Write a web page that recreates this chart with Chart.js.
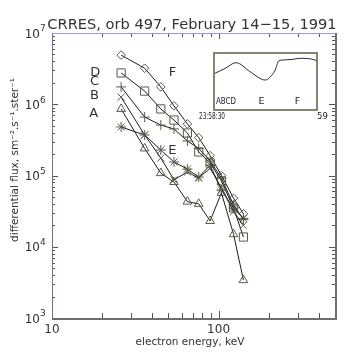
<!DOCTYPE html>
<html>
<head>
<meta charset="utf-8">
<script src="https://cdn.jsdelivr.net/npm/chart.js@4"></script>
<style>
  html, body { margin: 0; padding: 0; background: #fff; }
  #wrap { position: relative; width: 359px; height: 354px; }
  #main { position: absolute; left: 0; top: 0; }
  #inset { position: absolute; left: 195px; top: 45px; }
</style>
</head>
<body>
<div id="wrap">
  <canvas id="main" width="359" height="354"></canvas>
  <canvas id="inset" width="140" height="80"></canvas>
</div>
<script>
// electron energy channels, keV
const energies = [26, 36, 45, 54, 65, 76, 89, 104, 123, 141];

// differential flux per time cut (A..F)
const fluxA = [8.6e5, 2.4e5, 1.08e5, 8.1e4, 4.3e4, 4.0e4, 2.3e4, 5.7e4, 1.5e4, 3.4e3];
const fluxB = [1.26e6, 3.7e5, 1.76e5, 8.7e4, 1.12e5, 9.2e4, 1.27e5, 6.7e4, 3.1e4, 2.0e4];
const fluxC = [1.75e6, 6.6e5, 5.1e5, 4.5e5, 3.05e5, 2.4e5, 1.6e5, 9.2e4, 3.85e4, 2.4e4];
const fluxD = [2.75e6, 1.53e6, 8.6e5, 6.0e5, 3.95e5, 2.14e5, 1.5e5, 8.4e4, 3.5e4, 1.37e4];
const fluxE = [4.8e5, 3.7e5, 2.28e5, 1.55e5, 1.23e5, 9.5e4, 1.4e5, 6.25e4, 3.5e4, 2.5e4];
const fluxF = [4.9e6, 3.2e6, 1.75e6, 9.5e5, 5.3e5, 3.4e5, 1.9e5, 1.0e5, 4.8e4, 2.9e4];

const seriesNames = ['A', 'B', 'C', 'D', 'E', 'F'];

// axis ticks
const xTickValues = [10, 100];
const xTickLabels = ['10', '100'];
const yTickValues = [1e3, 1e4, 1e5, 1e6, 1e7];
const yTickExponents = ['3', '4', '5', '6', '7'];

// inset: time since 23:58:30 (s) and relative trace
const insetTime = [0.3, 3.2, 6.4, 10.5, 13.9, 14.9, 16.3, 17.8, 18.9, 20.1, 23, 25, 28.8, 29.9];
const insetValue = [0.644, 0.728, 0.83, 0.672, 0.539, 0.526, 0.574, 0.70, 0.865, 0.877, 0.889, 0.907, 0.889, 0.865];
const insetMarkNames = ['ABCD', 'E', 'F'];
const insetStart = '23:58:30';
const insetEnd = '59';

const FONT = '"DejaVu Sans", sans-serif';
const markColor = '#5a5a48';
const lineColor = '#1c1c1c';

const styles = {
    A: { pointStyle: 'triangle', pointRadius: 5 },
    B: { pointStyle: 'crossRot', pointRadius: 5 },
    C: { pointStyle: 'cross', pointRadius: 5 },
    D: { pointStyle: 'rect', pointRadius: 5.8 },
    E: { pointStyle: 'star', pointRadius: 5 },
    F: { pointStyle: 'rectRot', pointRadius: 4.3 }
};

const allFlux = [fluxA, fluxB, fluxC, fluxD, fluxE, fluxF];

const datasets = seriesNames.map((name, k) => ({
    label: name,
    data: energies.map((e, i) => ({ x: e, y: allFlux[k][i] })),
    borderColor: lineColor,
    borderWidth: 1,
    pointBorderColor: markColor,
    pointBackgroundColor: 'rgba(0,0,0,0)',
    pointBorderWidth: 1,
    pointStyle: styles[name].pointStyle,
    pointRadius: styles[name].pointRadius,
    tension: 0,
    fill: false
}));

// letters placed next to the curves, in data units
const letterSpots = [
    { t: 'D', x: 18.2, y: 2.75e6 },
    { t: 'C', x: 18.0, y: 2.05e6 },
    { t: 'B', x: 18.0, y: 1.31e6 },
    { t: 'A', x: 17.8, y: 7.5e5 },
    { t: 'F', x: 52.8, y: 2.75e6 },
    { t: 'E', x: 52.8, y: 2.21e5 }
];

const framePlugin = {
    id: 'frame',
    afterDraw(chart) {
        const { ctx, chartArea: a, scales: { x, y } } = chart;
        ctx.save();

        // tick marks
        ctx.strokeStyle = '#555';
        ctx.lineWidth = 1;
        ctx.beginPath();
        for (let d = 10; d < 1000; d *= 10) {
            for (let m = 1; m <= 9; m++) {
                const v = m * d;
                if (v <= 10 || v > 500) continue;
                const px = Math.round(x.getPixelForValue(v)) + 0.5;
                const len = m === 1 ? 7 : 5;
                ctx.moveTo(px, a.bottom); ctx.lineTo(px, a.bottom - len);
                ctx.moveTo(px, a.top); ctx.lineTo(px, a.top + len - 1);
            }
        }
        for (let d = 1e3; d < 1e7; d *= 10) {
            for (let m = 1; m <= 9; m++) {
                const v = m * d;
                if (v <= 1e3) continue;
                const py = Math.round(y.getPixelForValue(v)) + 0.5;
                const len = m === 1 ? 6 : 3;
                ctx.moveTo(a.left, py); ctx.lineTo(a.left + len, py);
                ctx.moveTo(a.right, py); ctx.lineTo(a.right - len, py);
            }
        }
        ctx.stroke();

        // frame: top/left light blue, bottom/right grey and heavier
        ctx.lineWidth = 1;
        ctx.strokeStyle = '#9a9ae0';
        ctx.beginPath();
        ctx.moveTo(a.left, a.top + 0.5); ctx.lineTo(a.right, a.top + 0.5);
        ctx.stroke();
        ctx.strokeStyle = '#6d6db4';
        ctx.beginPath();
        ctx.moveTo(a.left + 0.5, a.top); ctx.lineTo(a.left + 0.5, a.bottom);
        ctx.stroke();
        ctx.lineWidth = 2;
        ctx.strokeStyle = '#6e6e6e';
        ctx.beginPath();
        ctx.moveTo(a.left, a.bottom + 1); ctx.lineTo(a.right + 2, a.bottom + 1);
        ctx.moveTo(a.right + 1, a.top); ctx.lineTo(a.right + 1, a.bottom + 2);
        ctx.stroke();

        // y tick labels 10^n
        ctx.fillStyle = '#333';
        yTickValues.forEach((v, i) => {
            const py = y.getPixelForValue(v);
            ctx.font = '12px ' + FONT;
            ctx.textAlign = 'right';
            ctx.textBaseline = 'middle';
            ctx.fillText('10', a.left - 12, py + 1.5);
            ctx.font = '9px ' + FONT;
            ctx.textAlign = 'left';
            ctx.fillText(yTickExponents[i], a.left - 12, py - 4);
        });

        // x tick labels
        ctx.font = '12px ' + FONT;
        ctx.textAlign = 'center';
        ctx.textBaseline = 'top';
        xTickValues.forEach((v, i) => {
            ctx.fillText(xTickLabels[i], x.getPixelForValue(v), a.bottom + 6);
        });

        // axis titles
        ctx.font = '10.5px ' + FONT;
        ctx.textBaseline = 'middle';
        ctx.fillText('electron energy, keV', 190, 342);
        ctx.save();
        ctx.translate(15, 160);
        ctx.rotate(-Math.PI / 2);
        ctx.fillText('differential flux, sm\u207B\u00B2.s\u207B\u00B9.ster\u207B\u00B9', 0, 0);
        ctx.restore();

        // title
        ctx.font = '14.6px ' + FONT;
        ctx.textBaseline = 'alphabetic';
        ctx.fillText('CRRES, orb 497, February 14\u221215, 1991', 192, 29);

        // curve letters
        ctx.font = '13px ' + FONT;
        ctx.textBaseline = 'middle';
        letterSpots.forEach(s => {
            ctx.fillText(s.t, x.getPixelForValue(s.x), y.getPixelForValue(s.y));
        });

        ctx.restore();
    }
};

new Chart(document.getElementById('main'), {
    type: 'line',
    data: { datasets: datasets },
    options: {
        responsive: false,
        animation: false,
        devicePixelRatio: 1,
        layout: { padding: { left: 52, right: 24, top: 33, bottom: 36 } },
        plugins: { legend: { display: false }, tooltip: { enabled: false } },
        scales: {
            x: { type: 'logarithmic', min: 10, max: 500, display: false },
            y: { type: 'logarithmic', min: 1e3, max: 1e7, display: false }
        }
    },
    plugins: [framePlugin]
});

// inset trace
const fitText = (ctx, text, x, y, width) => {
    const w = ctx.measureText(text).width;
    ctx.save();
    ctx.translate(x, y);
    ctx.scale(Math.min(1, width / w), 1);
    ctx.fillText(text, 0, 0);
    ctx.restore();
};

const insetPlugin = {
    id: 'insetFrame',
    afterDraw(chart) {
        const { ctx, chartArea: a, scales: { x } } = chart;
        ctx.save();
        ctx.strokeStyle = '#66664e';
        ctx.lineWidth = 1.6;
        ctx.strokeRect(a.left, a.top, a.right - a.left, a.bottom - a.top);

        ctx.fillStyle = '#222';
        ctx.textBaseline = 'middle';
        ctx.textAlign = 'left';
        ctx.font = '9.5px ' + FONT;
        fitText(ctx, insetMarkNames[0], a.left + 2, a.bottom - 8, 20);
        ctx.textAlign = 'center';
        fitText(ctx, insetMarkNames[1], x.getPixelForValue(13.8), a.bottom - 8, 20);
        fitText(ctx, insetMarkNames[2], x.getPixelForValue(24.3), a.bottom - 8, 20);

        ctx.font = '8.5px ' + FONT;
        ctx.textAlign = 'left';
        fitText(ctx, insetStart, 4, a.bottom + 7, 26);
        ctx.textAlign = 'center';
        fitText(ctx, insetEnd, 127.5, a.bottom + 7, 12);
        ctx.restore();
    }
};

new Chart(document.getElementById('inset'), {
    type: 'line',
    data: {
        datasets: [{
            data: insetTime.map((t, i) => ({ x: t, y: insetValue[i] })),
            borderColor: '#2a2a2a',
            borderWidth: 1,
            pointRadius: 0,
            cubicInterpolationMode: 'monotone',
            fill: false
        }]
    },
    options: {
        responsive: false,
        animation: false,
        devicePixelRatio: 1,
        layout: { padding: { left: 19, right: 18, top: 8, bottom: 15 } },
        plugins: { legend: { display: false }, tooltip: { enabled: false } },
        scales: {
            x: { type: 'linear', min: 0, max: 30, display: false },
            y: { type: 'linear', min: 0, max: 1, display: false }
        }
    },
    plugins: [insetPlugin]
});
</script>
</body>
</html>
